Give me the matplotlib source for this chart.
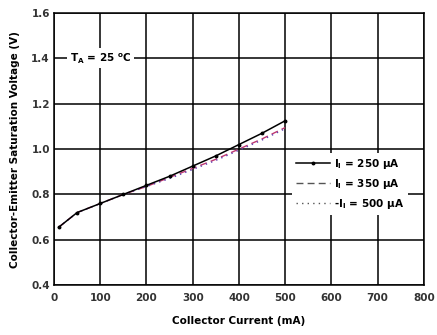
import matplotlib
matplotlib.use("Agg")
import matplotlib.pyplot as plt
from matplotlib.lines import Line2D

plt.rcParams['font.family'] = ['DejaVu Sans']
plt.rcParams['font.weight'] = 'bold'
plt.rcParams['axes.labelweight'] = 'bold'
plt.rcParams['mathtext.default'] = 'regular'

# collector current (mA)
ic = [10, 50, 100, 150, 200, 250, 300, 350, 400, 450, 500]
# saturation voltage (V) for each base current
v_250 = [0.655, 0.72, 0.76, 0.80, 0.84, 0.88, 0.925, 0.97, 1.02, 1.07, 1.125]
v_350 = [0.655, 0.72, 0.76, 0.80, 0.835, 0.875, 0.915, 0.955, 1.00, 1.045, 1.095]
v_500 = [0.655, 0.72, 0.76, 0.80, 0.835, 0.87, 0.91, 0.95, 0.995, 1.04, 1.09]
labels = ['I$_{I}$ = 250 \u00b5A', 'I$_{I}$ = 350 \u00b5A', '-I$_{I}$ = 500 \u00b5A']

fig = plt.figure(figsize=(4.37, 3.35), dpi=100)
ax = fig.add_axes([0.1236, 0.149, 0.8464, 0.812])

ax.plot(ic, v_250, color='black', lw=1.1, marker='o', ms=1.8, zorder=4)
ax.plot(ic, v_350, color='#c03870', lw=1.0, ls=(0, (5, 3)), zorder=3)
ax.plot(ic, v_500, color='#6040b0', lw=1.0, ls=(0, (1, 3)), zorder=3)

ax.set_xlim(0, 800)
ax.set_ylim(0.4, 1.6)
ax.set_xticks(range(0, 801, 100))
ax.set_yticks([0.4, 0.6, 0.8, 1.0, 1.2, 1.4, 1.6])
ax.set_yticklabels(['0.4', '0.6', '0.8', '1.0', '1.2', '1.4', '1.6'])
ax.grid(True, color='black', lw=1.1)
ax.set_axisbelow(True)
for s in ax.spines.values():
    s.set_linewidth(1.1)
ax.tick_params(length=0, labelsize=7.5, colors='#333333')
ax.tick_params(axis='x', pad=6)
ax.tick_params(axis='y', pad=3)

ax.set_xlabel('Collector Current (mA)', fontsize=7.5, labelpad=9)
ax.set_ylabel('Collector-Emitter Saturation Voltage (V)', fontsize=7.5, labelpad=8)

ax.text(100, 1.4, 'T$_{A}$ = 25 $^{o}$C', fontsize=7.5, ha='center', va='center',
        bbox=dict(facecolor='white', edgecolor='none', pad=2), zorder=5)

handles = [Line2D([], [], color='black', lw=1.1, marker='o', ms=1.8),
           Line2D([], [], color='#555555', lw=1.0, ls=(0, (5, 3))),
           Line2D([], [], color='#555555', lw=1.0, ls=(0, (1, 3)))]
leg = ax.legend(handles, labels, loc='upper left', bbox_to_anchor=(0.63, 0.505),
                fontsize=7.5, frameon=True, handlelength=3.2, handletextpad=0.4,
                labelspacing=0.55, borderpad=0.4)
leg.get_frame().set_edgecolor('none')
leg.get_frame().set_facecolor('white')
leg.get_frame().set_alpha(1)
leg.set_zorder(6)

fig.savefig('out.png', dpi=100)
